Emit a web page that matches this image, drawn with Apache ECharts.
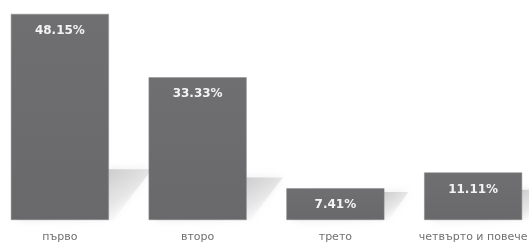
<!DOCTYPE html>
<html>
<head>
<meta charset="utf-8" />
<script src="https://cdn.jsdelivr.net/npm/echarts@6/dist/echarts.min.js"></script>
<style>
    html, body { margin: 0; padding: 0; background: #fff; }
    #chart { width: 529px; height: 245px; }
</style>
</head>
<body>
<div id="chart"></div>
<script type="text/javascript">
var categories = ["първо", "второ", "трето", "четвърто и повече"];
var values = [48.15, 33.33, 7.41, 11.11];

var chart = echarts.init(document.getElementById("chart"));

// светла "сянка" на пода зад всяка колона
function renderFloor(params, api) {
    var base = api.coord([api.value(0), 0]);
    var top = api.coord([api.value(0), api.value(1)]);
    var barH = base[1] - top[1];
    var half = 49;
    var xl = base[0] - half, xr = base[0] + half, y = base[1];
    var h = 24 + 0.13 * barH, dx = h * 0.85;
    return {
        type: "polygon",
        shape: { points: [[xl + 6, y], [xr + 4, y], [xr + dx, y - h], [xl + dx, y - h]] },
        style: {
            fill: new echarts.graphic.LinearGradient(xr, y - h, xr + dx * 0.75, y, [
                { offset: 0, color: "rgba(195,195,195,0.8)" },
                { offset: 0.5, color: "rgba(220,220,220,0.55)" },
                { offset: 1, color: "rgba(255,255,255,0)" }
            ], true),
            shadowBlur: 8,
            shadowColor: "rgba(220,220,220,0.7)"
        },
        z2: 0
    };
}

var option = {
    animation: false,
    grid: { left: -9, right: -13, top: 6, bottom: 25, outerBoundsMode: "none", containLabel: false },
    xAxis: {
        type: "category",
        data: categories,
        axisLine: { show: false },
        axisTick: { show: false },
        axisLabel: {
            interval: 0,
            color: "#707070",
            fontSize: 11,
            fontFamily: "DejaVu Sans",
            margin: 12
        }
    },
    yAxis: {
        type: "value",
        min: 0,
        max: 50,
        show: false,
        splitLine: { show: false }
    },
    series: [{
        type: "custom",
        renderItem: renderFloor,
        data: values.map(function (v, i) { return [i, v]; }),
        z: 1,
        silent: true
    }, {
        type: "bar",
        data: values,
        barWidth: 98,
        z: 2,
        itemStyle: {
            color: new echarts.graphic.LinearGradient(0, 0, 0, 1, [
                { offset: 0, color: "#6f6f71" },
                { offset: 1, color: "#69696b" }
            ]),
            borderColor: "#8a8a8c",
            borderWidth: 0.5
        },
        label: {
            show: true,
            position: "insideTop",
            distance: 11,
            color: "#f4f4f4",
            fontSize: 12,
            fontWeight: "bold",
            fontFamily: "DejaVu Sans",
            formatter: function (p) { return p.value.toFixed(2) + "%"; }
        }
    }]
};

chart.setOption(option);
</script>
</body>
</html>
